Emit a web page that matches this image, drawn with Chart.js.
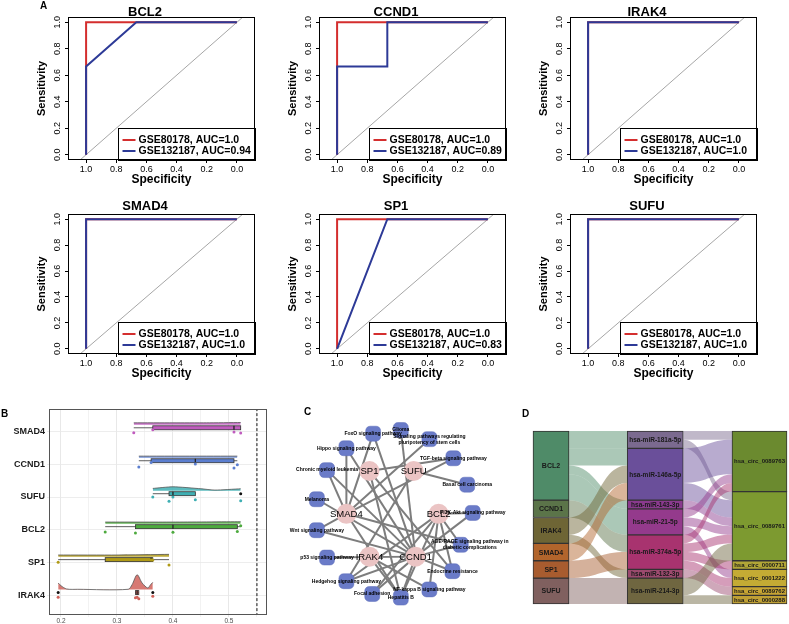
<!DOCTYPE html>
<html lang="en">
<head>
<meta charset="UTF-8" />
<meta name="viewport" content="width=device-width, initial-scale=1.0" />
<title>Hub gene validation</title>
<script src="https://cdn.jsdelivr.net/npm/chart.js"></script>
<style>
  body { margin: 0; background: #fff; }
  #page { position: relative; width: 789px; height: 624px; overflow: hidden; font-family: "Liberation Sans", Arial, sans-serif; }
  #page canvas { position: absolute; }
  .tag { position: absolute; z-index: 2; font-weight: bold; font-size: 10px; line-height: 10px; }
</style>
</head>
<body>
<div id="page">
  <div class="tag" style="left:40px;top:1px">A</div>
  <div class="tag" style="left:1px;top:409px">B</div>
  <div class="tag" style="left:304px;top:407px">C</div>
  <div class="tag" style="left:522px;top:409px">D</div>
</div>
<script>
// ---- A: ROC curves ----
const rocGenes = ['BCL2', 'CCND1', 'IRAK4', 'SMAD4', 'SP1', 'SUFU'];
const cohortNames = ['GSE80178', 'GSE132187'];
const cohortColors = ['#D42E2E', '#2D3A97'];
const aucGSE80178 = ['1.0', '1.0', '1.0', '1.0', '1.0', '1.0'];
const aucGSE132187 = ['0.94', '0.89', '1.0', '1.0', '0.83', '1.0'];
const specGSE80178 = [[1, 1, 0], [1, 1, 0], [1, 1, 0], [1, 1, 0], [1, 1, 0], [1, 1, 0]];
const sensGSE80178 = [[0, 1, 1], [0, 1, 1], [0, 1, 1], [0, 1, 1], [0, 1, 1], [0, 1, 1]];
const specGSE132187 = [[1, 1, 0.667, 0], [1, 1, 0.667, 0.667, 0], [1, 1, 0], [1, 1, 0], [1, 0.667, 0], [1, 1, 0]];
const sensGSE132187 = [[0, 0.667, 1, 1], [0, 0.667, 0.667, 1, 1], [0, 1, 1], [0, 1, 1], [0, 1, 1], [0, 1, 1]];
const chanceSpec = [1.2, -0.2];
const chanceSens = [-0.2, 1.2];
const rocTicks = [0, 0.2, 0.4, 0.6, 0.8, 1.0];

// ---- B: raincloud ----
const rainGenes = ['SMAD4', 'CCND1', 'SUFU', 'BCL2', 'SP1', 'IRAK4'];
const rainColors = ['#C05CBE', '#5B7ECF', '#3FAFB3', '#4DAA3E', '#B09A16', '#D0625A'];
const boxMin = [0.330, 0.339, 0.364, 0.279, 0.195, 0.333];
const boxQ1 = [0.364, 0.361, 0.393, 0.333, 0.279, 0.333];
const boxMedian = [0.509, 0.440, 0.400, 0.400, 0.361, 0.336];
const boxQ3 = [0.521, 0.509, 0.440, 0.515, 0.364, 0.339];
const boxMax = [0.521, 0.515, 0.440, 0.521, 0.393, 0.339];
const outlierValues = [[], [], [0.521], [], [], [0.195, 0.364]];
const pointValues = [
  [0.330, 0.364, 0.509, 0.521],
  [0.339, 0.361, 0.440, 0.509, 0.515],
  [0.364, 0.393, 0.400, 0.440, 0.521],
  [0.279, 0.333, 0.400, 0.515, 0.521],
  [0.195, 0.361, 0.364, 0.393],
  [0.195, 0.333, 0.336, 0.339, 0.364]
];
const pointJitter = [
  [0.05, -0.04, 0.03, 0.06],
  [0.09, -0.05, 0.00, 0.12, 0.02],
  [0.00, 0.13, 0.00, 0.08, 0.11],
  [0.06, 0.09, 0.07, 0.05, -0.13],
  [-0.02, -0.09, -0.09, 0.06],
  [0.04, 0.06, 0.04, 0.09, 0.01]
];
const violinX = [
  [0.330, 0.400, 0.460, 0.521],
  [0.339, 0.430, 0.515],
  [0.364, 0.400, 0.450, 0.475, 0.521],
  [0.279, 0.400, 0.521],
  [0.195, 0.300, 0.393],
  [0.195, 0.200, 0.210, 0.230, 0.320, 0.327, 0.336, 0.345, 0.355, 0.360, 0.364]
];
const violinH = [
  [0.06, 0.06, 0.06, 0.07],
  [0.05, 0.05, 0.05],
  [0.07, 0.12, 0.06, 0.02, 0.06],
  [0.05, 0.05, 0.06],
  [0.05, 0.05, 0.07],
  [0.20, 0.12, 0.02, 0.01, 0.01, 0.15, 0.45, 0.20, 0.05, 0.15, 0.22]
];
const cutoff = 0.55;
const rainGrid = [0.2, 0.25, 0.3, 0.35, 0.4, 0.45, 0.5, 0.55];
const rainTickLabels = ['0.2', '', '0.3', '', '0.4', '', '0.5', ''];

// ---- C: gene / pathway network ----
const netGenes = ['SP1', 'SUFU', 'SMAD4', 'BCL2', 'IRAK4', 'CCND1'];
const netGeneX = [-0.25, 0.23, -0.50, 0.50, -0.25, 0.25];
const netGeneY = [0.47, 0.47, 0.00, 0.00, -0.47, -0.47];
const pathways = ['FoxO signaling pathway', 'Glioma', 'Signaling pathways regulating\npluripotency of stem cells',
  'Hippo signaling pathway', 'TGF-beta signaling pathway', 'Chronic myeloid leukemia', 'Basal cell carcinoma',
  'Melanoma', 'PI3K-Akt signaling pathway', 'Wnt signaling pathway',
  'AGE-RAGE signaling pathway in\ndiabetic complications', 'p53 signaling pathway', 'Endocrine resistance',
  'Hedgehog signaling pathway', 'NF-kappa B signaling pathway', 'Focal adhesion', 'Hepatitis B'];
const pathX = [-0.21, 0.09, 0.40, -0.50, 0.66, -0.71, 0.81, -0.82, 0.87, -0.82, 0.74, -0.71, 0.65, -0.50, 0.40, -0.22, 0.09];
const pathY = [0.88, 0.92, 0.82, 0.72, 0.61, 0.48, 0.32, 0.16, 0.01, -0.18, -0.34, -0.48, -0.63, -0.74, -0.83, -0.88, -0.92];
const edgeGene = ['SMAD4', 'SMAD4', 'SMAD4', 'SMAD4', 'SMAD4', 'SMAD4', 'SMAD4', 'SMAD4',
  'CCND1', 'CCND1', 'CCND1', 'CCND1', 'CCND1', 'CCND1', 'CCND1', 'CCND1', 'CCND1', 'CCND1', 'CCND1', 'CCND1', 'CCND1',
  'BCL2', 'BCL2', 'BCL2', 'BCL2', 'BCL2', 'BCL2', 'BCL2',
  'SUFU', 'SUFU', 'SP1', 'SP1', 'SP1', 'IRAK4', 'IRAK4'];
const edgePath = ['Hippo signaling pathway', 'FoxO signaling pathway', 'Chronic myeloid leukemia', 'Wnt signaling pathway',
  'TGF-beta signaling pathway', 'Signaling pathways regulating\npluripotency of stem cells',
  'AGE-RAGE signaling pathway in\ndiabetic complications', 'Hepatitis B',
  'Hippo signaling pathway', 'FoxO signaling pathway', 'Chronic myeloid leukemia', 'Melanoma', 'Wnt signaling pathway',
  'p53 signaling pathway', 'Glioma', 'PI3K-Akt signaling pathway', 'AGE-RAGE signaling pathway in\ndiabetic complications',
  'Endocrine resistance', 'Hedgehog signaling pathway', 'Focal adhesion', 'Hepatitis B',
  'PI3K-Akt signaling pathway', 'AGE-RAGE signaling pathway in\ndiabetic complications', 'Endocrine resistance',
  'NF-kappa B signaling pathway', 'Focal adhesion', 'Hepatitis B', 'Hedgehog signaling pathway',
  'Basal cell carcinoma', 'Hedgehog signaling pathway',
  'TGF-beta signaling pathway', 'Endocrine resistance', 'Hepatitis B',
  'NF-kappa B signaling pathway', 'Hepatitis B'];

// ---- D: gene - miRNA - circRNA sankey ----
const genes = ['BCL2', 'CCND1', 'IRAK4', 'SMAD4', 'SP1', 'SUFU'];
const mirnas = ['hsa-miR-181a-5p', 'hsa-miR-146a-5p', 'hsa-miR-143-3p', 'hsa-miR-21-5p', 'hsa-miR-374a-5p', 'hsa-miR-132-3p', 'hsa-miR-214-3p'];
const circs = ['hsa_circ_0089763', 'hsa_circ_0089761', 'hsa_circ_0000711', 'hsa_circ_0001222', 'hsa_circ_0089762', 'hsa_circ_0000288'];
const geneColors = ['#4F8B68', '#5B7449', '#6E6535', '#B2652C', '#A85C2F', '#80605F'];
const mirnaColors = ['#7B6A8F', '#6A4F9A', '#8A3A8E', '#943A8C', '#A8336F', '#9B4A6E', '#6F6640'];
const circColors = ['#6B8A2F', '#7D9A30', '#B2A637', '#C4AB34', '#C7A534', '#BFA035'];
const geneMirnaFrom = [0, 0, 0, 0, 1, 2, 2, 3, 4, 5];
const geneMirnaTo = [0, 1, 2, 3, 4, 1, 5, 1, 4, 6];
const geneMirnaCount = [2, 2, 1, 3, 2, 2, 1, 2, 2, 3];
const mirnaCircFrom = [0, 0, 1, 1, 2, 3, 3, 3, 4, 4, 4, 4, 5, 6, 6];
const mirnaCircTo = [0, 1, 0, 1, 1, 0, 1, 3, 0, 1, 2, 3, 4, 1, 5];
const mirnaCircCount = [1, 1, 4, 2, 1, 1, 1, 1, 1, 1, 1, 1, 1, 2, 1];

Chart.defaults.font.family = '"Liberation Sans", Arial, sans-serif';
Chart.defaults.color = '#000';
Chart.defaults.animation = false;
Chart.defaults.responsive = false;
Chart.defaults.events = [];
Chart.defaults.plugins.legend.display = false;
Chart.defaults.plugins.tooltip.enabled = false;

const page = document.getElementById('page');
function addCanvas(left, top, w, h) {
  const c = document.createElement('canvas');
  c.width = w; c.height = h;
  c.style.left = left + 'px'; c.style.top = top + 'px';
  c.style.width = w + 'px'; c.style.height = h + 'px';
  page.appendChild(c);
  return c;
}
const toXY = (xs, ys) => xs.map((v, k) => ({ x: v, y: ys[k] }));
function alpha(hex, a) {
  const n = parseInt(hex.slice(1), 16);
  return `rgba(${n >> 16},${(n >> 8) & 255},${n & 255},${a})`;
}

const frame = {
  id: 'frame',
  afterDatasetsDraw(chart, args, opts) {
    const a = chart.chartArea, ctx = chart.ctx;
    ctx.save();
    ctx.strokeStyle = opts.color || '#000';
    ctx.lineWidth = 1;
    ctx.strokeRect(Math.round(a.left) + 0.5, Math.round(a.top) + 0.5, Math.round(a.width) - 1, Math.round(a.height) - 1);
    ctx.restore();
  }
};

const rocLegend = {
  id: 'rocLegend',
  afterDatasetsDraw(chart) {
    const a = chart.chartArea, ctx = chart.ctx;
    const w = 137, h = 32;
    const x0 = Math.round(a.right - w) + 0.5, y0 = Math.round(a.bottom - h) + 0.5;
    ctx.save();
    ctx.fillStyle = '#fff';
    ctx.fillRect(x0, y0, w, h);
    ctx.strokeStyle = '#000'; ctx.lineWidth = 1;
    ctx.strokeRect(x0, y0, w, h);
    ctx.font = 'bold 10.5px "Liberation Sans", Arial, sans-serif';
    ctx.textBaseline = 'middle';
    chart.data.datasets.filter(d => d.label).forEach((d, k) => {
      const y = y0 + 11.5 + k * 11;
      ctx.strokeStyle = d.borderColor; ctx.lineWidth = 2;
      ctx.beginPath(); ctx.moveTo(x0 + 4, y); ctx.lineTo(x0 + 17, y); ctx.stroke();
      ctx.fillStyle = '#000';
      ctx.fillText(d.label, x0 + 20, y + 0.5);
    });
    ctx.restore();
  }
};

rocGenes.forEach((gene, i) => {
  const col = i % 3, row = Math.floor(i / 3);
  const cv = addCanvas(251 * col, row ? 195 : 0, 260, 192);
  const tickFmt = v => v.toFixed(1);
  new Chart(cv, {
    type: 'scatter',
    data: {
      datasets: [
        { data: toXY(chanceSpec, chanceSens), showLine: true, borderColor: '#a6a6a6', borderWidth: 1, pointRadius: 0, clip: 0, order: 3 },
        { label: cohortNames[0] + ', AUC=' + aucGSE80178[i], data: toXY(specGSE80178[i], sensGSE80178[i]), showLine: true,
          borderColor: cohortColors[0], borderWidth: 2, pointRadius: 0, order: 2 },
        { label: cohortNames[1] + ', AUC=' + aucGSE132187[i], data: toXY(specGSE132187[i], sensGSE132187[i]), showLine: true,
          borderColor: cohortColors[1], borderWidth: 2, pointRadius: 0, order: 1 }
      ]
    },
    options: {
      layout: { padding: { left: 35, right: 5, top: 0, bottom: row ? 6 : 5 } },
      plugins: {
        title: { display: true, text: gene, color: '#000', font: { size: 13, weight: 'bold', lineHeight: 1 },
          padding: row ? { top: 4.5, bottom: 1.5 } : { top: 5.5, bottom: -1.5 } },
        frame: { color: '#000' }
      },
      scales: {
        x: {
          type: 'linear', reverse: true, min: -0.12, max: 1.12,
          afterBuildTicks: s => { s.ticks = rocTicks.map(v => ({ value: v })); },
          afterFit: s => { s.height = 27; },
          ticks: { callback: tickFmt, font: { size: 9 }, color: '#000', padding: 1.5, maxRotation: 0, autoSkip: false },
          grid: { drawOnChartArea: false, color: '#000', tickLength: 3 },
          border: { display: false },
          title: { display: true, text: 'Specificity', color: '#000', font: { size: 12, weight: 'bold' }, padding: 0 }
        },
        y: {
          type: 'linear', min: -0.04, max: 1.04,
          afterBuildTicks: s => { s.ticks = rocTicks.map(v => ({ value: v })); },
          afterFit: s => { s.width = 33; },
          ticks: { callback: tickFmt, font: { size: 9 }, color: '#000', padding: 1, minRotation: 90, maxRotation: 90,
            crossAlign: 'center', autoSkip: false },
          grid: { drawOnChartArea: false, color: '#000', tickLength: 3 },
          border: { display: false },
          title: { display: true, text: 'Sensitivity', color: '#000', font: { size: 11, weight: 'bold' }, padding: 0 }
        }
      }
    },
    plugins: [rocLegend, frame]
  });
});

// ---- B ----
const boxes = {
  id: 'boxes',
  beforeDatasetsDraw(chart) {
    const { ctx, scales: { x, y } } = chart;
    ctx.save();
    rainGenes.forEach((g, i) => {
      const yc = y.getPixelForValue(i - 0.10);
      const h = Math.abs(y.getPixelForValue(i - 0.04) - yc);
      ctx.strokeStyle = '#333'; ctx.lineWidth = 0.8;
      ctx.beginPath();
      ctx.moveTo(x.getPixelForValue(boxMin[i]), yc); ctx.lineTo(x.getPixelForValue(boxMax[i]), yc);
      ctx.stroke();
      const x1 = x.getPixelForValue(boxQ1[i]), x2 = x.getPixelForValue(boxQ3[i]);
      ctx.fillStyle = rainColors[i];
      ctx.fillRect(x1, yc - h, x2 - x1, 2 * h);
      ctx.strokeRect(x1, yc - h, x2 - x1, 2 * h);
      const xm = x.getPixelForValue(boxMedian[i]);
      ctx.lineWidth = 1.3; ctx.strokeStyle = '#222';
      ctx.beginPath(); ctx.moveTo(xm, yc - h); ctx.lineTo(xm, yc + h); ctx.stroke();
    });
    ctx.restore();
  }
};

const rainSets = [];
rainGenes.forEach((g, i) => {
  rainSets.push({ data: pointValues[i].map((v, k) => ({ x: v, y: i + pointJitter[i][k] })), pointRadius: 1.5,
    pointBackgroundColor: rainColors[i], pointBorderWidth: 0, order: 2 });
  if (outlierValues[i].length) {
    rainSets.push({ data: outlierValues[i].map(v => ({ x: v, y: i - 0.10 })), pointRadius: 1.5,
      pointBackgroundColor: '#111', pointBorderWidth: 0, order: 1 });
  }
  rainSets.push({ data: violinX[i].map((v, k) => ({ x: v, y: i - 0.19 - violinH[i][k] })), showLine: true,
    pointRadius: 0, borderColor: '#555', borderWidth: 0.8, backgroundColor: alpha(rainColors[i], 0.85),
    fill: { value: i - 0.19 }, tension: i === 5 ? 0.3 : 0.2, order: 5 });
});
rainSets.push({ data: [{ x: cutoff, y: -1 }, { x: cutoff, y: 6 }], showLine: true, pointRadius: 0,
  borderColor: '#111', borderWidth: 1, borderDash: [3, 2], order: 4 });

new Chart(addCanvas(0, 400, 272, 224), {
  type: 'scatter',
  data: { datasets: rainSets },
  options: {
    layout: { padding: { left: 0, right: 5, top: 9, bottom: 0 } },
    plugins: { frame: { color: '#555' } },
    scales: {
      x: {
        type: 'linear', min: 0.1786, max: 0.568,
        afterBuildTicks: s => { s.ticks = rainGrid.map(v => ({ value: v })); },
        afterFit: s => { s.height = 9; },
        ticks: { callback: (v, k) => rainTickLabels[k], font: { size: 6.5 }, color: '#4d4d4d', padding: 0.5, maxRotation: 0, autoSkip: false },
        grid: { color: c => rainTickLabels[c.index] ? '#e2e2e2' : '#efefef', lineWidth: 0.8, tickLength: 2 },
        border: { display: false }
      },
      y: {
        type: 'linear', reverse: true, min: -0.67, max: 5.58,
        afterBuildTicks: s => { s.ticks = rainGenes.map((g, k) => ({ value: k })); },
        afterFit: s => { s.width = 49; },
        ticks: { callback: v => rainGenes[v], font: { size: 9, weight: 'bold' }, color: '#1a1a1a', padding: 2, autoSkip: false },
        grid: { color: '#e8e8e8', lineWidth: 0.8, tickLength: 2 },
        border: { display: false }
      }
    }
  },
  plugins: [boxes, frame]
});

// ---- C ----
const netLabels = {
  id: 'netLabels',
  afterDatasetsDraw(chart) {
    const { ctx, scales: { x, y } } = chart;
    ctx.save();
    ctx.fillStyle = '#000'; ctx.textAlign = 'center'; ctx.textBaseline = 'middle';
    ctx.font = 'bold 5px "Liberation Sans", Arial, sans-serif';
    pathways.forEach((p, i) => {
      const lines = p.split('\n');
      lines.forEach((ln, k) => ctx.fillText(ln, x.getPixelForValue(pathX[i]) + (lines.length > 1 && i === 10 ? 9 : 0),
        y.getPixelForValue(pathY[i]) + (k - (lines.length - 1) / 2) * 6));
    });
    ctx.font = '9.5px "Liberation Sans Narrow", "Liberation Sans", Arial, sans-serif';
    netGenes.forEach((g, i) => ctx.fillText(g, x.getPixelForValue(netGeneX[i]), y.getPixelForValue(netGeneY[i]) + 0.5));
    ctx.restore();
  }
};

const netSets = [
  { data: toXY(netGeneX, netGeneY), pointStyle: 'circle', pointRadius: 10, pointBackgroundColor: '#EBC4C4', pointBorderWidth: 0, order: 1 },
  { data: toXY(pathX, pathY), pointStyle: 'rectRounded', pointRadius: 8.7, pointBackgroundColor: '#6A7BC8', pointBorderColor: '#5b6bb8', pointBorderWidth: 0.5, order: 1 }
];
edgeGene.forEach((g, k) => {
  const gi = netGenes.indexOf(g), pi = pathways.indexOf(edgePath[k]);
  netSets.push({ data: [{ x: netGeneX[gi], y: netGeneY[gi] }, { x: pathX[pi], y: pathY[pi] }], showLine: true,
    pointRadius: 0, borderColor: '#7d7d7d', borderWidth: 2, order: 2 });
});

new Chart(addCanvas(270, 400, 257, 224), {
  type: 'scatter',
  data: { datasets: netSets },
  options: {
    scales: {
      x: { type: 'linear', display: false, min: -1.22, max: 1.35 },
      y: { type: 'linear', display: false, min: -1.10, max: 1.14 }
    }
  },
  plugins: [netLabels]
});

// ---- D ----
const totalsBy = (n, idx, counts) => Array.from({ length: n }, (_, j) => idx.reduce((s, v, k) => s + (v === j ? counts[k] : 0), 0));
const geneTotals = totalsBy(genes.length, geneMirnaFrom, geneMirnaCount);
const mirnaTotals = totalsBy(mirnas.length, geneMirnaTo, geneMirnaCount);
const circTotals = totalsBy(circs.length, mirnaCircTo, mirnaCircCount);
function stackNodes(counts) { let s = 0; return counts.map(c => { const r = [s, s + c]; s += c; return r; }); }
const sankeyCols = [
  { names: genes, ranges: stackNodes(geneTotals), colors: geneColors, width: 36, font: 'bold 7px' },
  { names: mirnas, ranges: stackNodes(mirnaTotals), colors: mirnaColors, width: 56, font: 'bold 6.5px' },
  { names: circs, ranges: stackNodes(circTotals), colors: circColors, width: 55, font: 'bold 6px' }
];
const colStart = [0, genes.length, genes.length + mirnas.length];
const nodeSets = [];
sankeyCols.forEach((col, ci) => col.names.forEach((n, k) => {
  const data = [null, null, null];
  data[ci] = col.ranges[k];
  nodeSets.push({ label: n, data, backgroundColor: col.colors[k], borderColor: '#333', borderWidth: 1,
    borderSkipped: false, barThickness: col.width, clip: false, col: ci });
}));
const nodeEl = (chart, ci, k) => chart.getDatasetMeta(colStart[ci] + k).data[ci];

function drawBands(chart, from, to, counts, ci, colors) {
  const ctx = chart.ctx, ys = chart.scales.y;
  const idx = counts.map((c, k) => k);
  const sUsed = sankeyCols[ci].ranges.map(r => r[0]), tUsed = sankeyCols[ci + 1].ranges.map(r => r[0]);
  const s0 = [], t0 = [];
  idx.slice().sort((a, b) => from[a] - from[b] || to[a] - to[b]).forEach(k => { s0[k] = sUsed[from[k]]; sUsed[from[k]] += counts[k]; });
  idx.slice().sort((a, b) => to[a] - to[b] || from[a] - from[b]).forEach(k => { t0[k] = tUsed[to[k]]; tUsed[to[k]] += counts[k]; });
  idx.forEach(k => {
    const sb = nodeEl(chart, ci, from[k]), tb = nodeEl(chart, ci + 1, to[k]);
    const xa = sb.x + sb.width / 2, xb = tb.x - tb.width / 2, xm = (xa + xb) / 2;
    const ya1 = ys.getPixelForValue(s0[k]), ya2 = ys.getPixelForValue(s0[k] + counts[k]);
    const yb1 = ys.getPixelForValue(t0[k]), yb2 = ys.getPixelForValue(t0[k] + counts[k]);
    ctx.fillStyle = alpha(colors[from[k]], 0.48);
    ctx.beginPath();
    ctx.moveTo(xa, ya1);
    ctx.bezierCurveTo(xm, ya1, xm, yb1, xb, yb1);
    ctx.lineTo(xb, yb2);
    ctx.bezierCurveTo(xm, yb2, xm, ya2, xa, ya2);
    ctx.closePath();
    ctx.fill();
  });
}

const flows = {
  id: 'flows',
  beforeDatasetsDraw(chart) {
    chart.ctx.save();
    drawBands(chart, geneMirnaFrom, geneMirnaTo, geneMirnaCount, 0, geneColors);
    drawBands(chart, mirnaCircFrom, mirnaCircTo, mirnaCircCount, 1, mirnaColors);
    chart.ctx.restore();
  },
  afterDatasetsDraw(chart) {
    const ctx = chart.ctx;
    ctx.save();
    ctx.fillStyle = '#1a1a1a'; ctx.textAlign = 'center'; ctx.textBaseline = 'middle';
    chart.data.datasets.forEach((d, di) => {
      const el = chart.getDatasetMeta(di).data[d.col];
      ctx.font = sankeyCols[d.col].font + ' "Liberation Sans", Arial, sans-serif';
      ctx.fillText(d.label, el.x, (el.y + el.base) / 2 + 0.5);
    });
    ctx.restore();
  }
};

new Chart(addCanvas(520, 400, 269, 224), {
  type: 'bar',
  data: { labels: ['Gene', 'miRNA', 'circRNA'], datasets: nodeSets },
  options: {
    layout: { padding: { left: 31, right: 29.5, top: 31, bottom: 20 } },
    scales: {
      x: { display: false, stacked: true, offset: false },
      y: { display: false, stacked: false, reverse: true, min: 0, max: geneTotals.reduce((a, b) => a + b, 0) }
    }
  },
  plugins: [flows]
});
</script>
</body>
</html>
